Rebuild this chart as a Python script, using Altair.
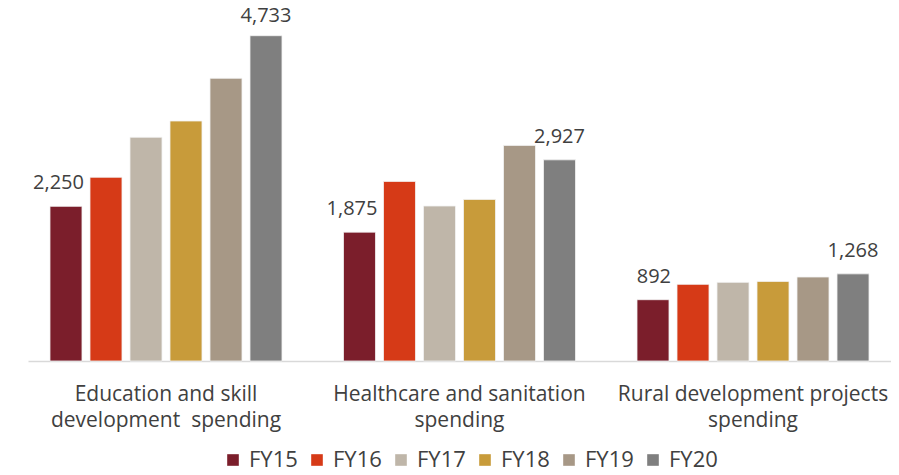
import altair as alt
import pandas as pd

categories = ["Education and skill|development\u00a0 spending",
              "Healthcare and sanitation|spending",
              "Rural development projects|spending"]
years = ["FY15", "FY16", "FY17", "FY18", "FY19", "FY20"]
education = [2250, 2673, 3255, 3492, 4113, 4733]
healthcare = [1875, 2613, 2255, 2351, 3137, 2927]
rural = [892, 1115, 1144, 1158, 1222, 1268]
colors = ["#7B1E2B", "#D63A17", "#BFB6A9", "#C89B3A", "#A79886", "#7F7F7F"]

rows = []
for cat, vals in zip(categories, [education, healthcare, rural]):
    for yr, v in zip(years, vals):
        rows.append({"category": cat, "year": yr, "value": v})
df = pd.DataFrame(rows)

FONT = "Open Sans"
TXT = "#404040"
YMAX = 5136

x = alt.X("category:N", sort=categories,
          scale=alt.Scale(paddingInner=0.1823, paddingOuter=0.0613),
          axis=alt.Axis(title=None, labelExpr="split(datum.label, '|')",
                        labelAngle=0, ticks=False, domainColor="#D9D9D9",
                        domainWidth=1.5, labelFontSize=21, labelColor=TXT,
                        labelFont=FONT, labelPadding=22, labelLineHeight=26,
                        labelBaseline="top", labelLimit=0))
xo = alt.XOffset("year:N", sort=years,
                 scale=alt.Scale(paddingInner=0.2, paddingOuter=0.1))
y = alt.Y("value:Q", scale=alt.Scale(domain=[0, YMAX], nice=False), axis=None)

base = alt.Chart(df).encode(x=x, xOffset=xo)

bars = base.mark_bar(stroke="#F2F2F2", strokeWidth=0.8).encode(
    y=y,
    color=alt.Color("year:N", sort=years,
                    scale=alt.Scale(domain=years, range=colors),
                    legend=alt.Legend(title=None, orient="none",
                                      direction="horizontal",
                                      legendX=194, legendY=441,
                                      symbolType="square", symbolSize=135,
                                      symbolStrokeWidth=0,
                                      labelFontSize=22, labelFont=FONT,
                                      labelColor=TXT, labelOffset=5,
                                      columnPadding=8))
)

# data labels sit above the bar but stay inside the plot area (as in the source)
labels = base.transform_calculate(
    anchor=f"min(datum.value, {YMAX} * 0.912)"
).encode(
    y=alt.Y("anchor:Q", scale=alt.Scale(domain=[0, YMAX], nice=False), axis=None),
    text=alt.Text("value:Q", format=",")
)

first = labels.transform_filter(alt.datum.year == "FY15").mark_text(
    align="right", baseline="alphabetic", dx=18, dy=-17,
    fontSize=20, font=FONT, color=TXT
)
last = labels.transform_filter(alt.datum.year == "FY20").mark_text(
    align="center", baseline="alphabetic", dy=-17,
    fontSize=20, font=FONT, color=TXT
)

chart = alt.layer(bars, first, last).properties(
    width=863, height=353,
    padding={"left": 20, "top": 0, "right": 0, "bottom": 106},
    autosize=alt.AutoSizeParams(type="none")
).configure_view(stroke=None)

chart.save("out.html", embed_options={"renderer": "svg", "actions": False})
